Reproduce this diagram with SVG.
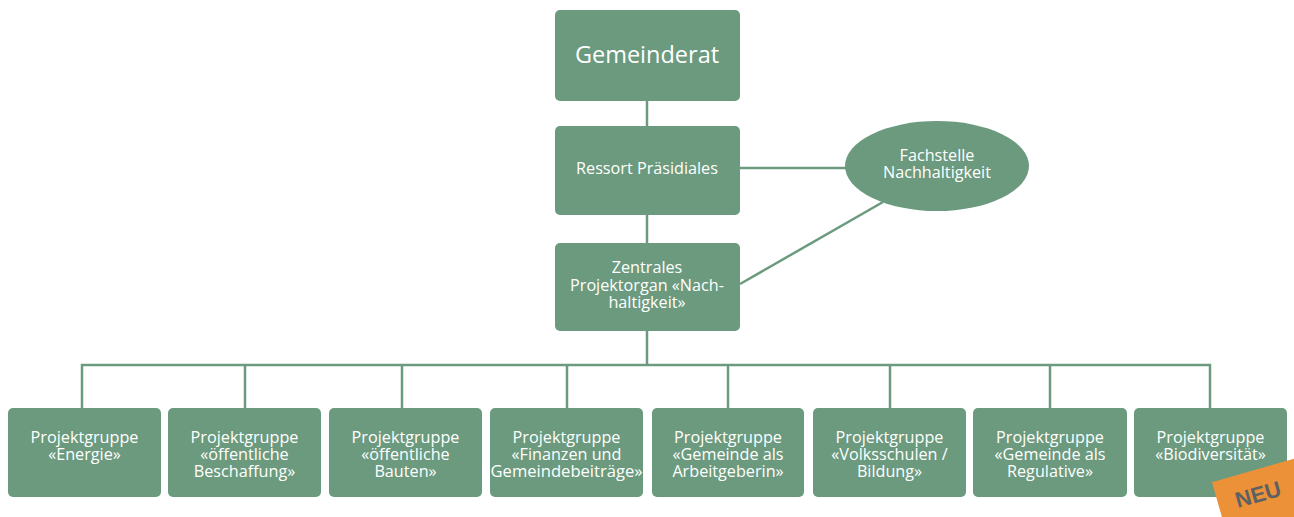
<svg xmlns="http://www.w3.org/2000/svg" width="1294" height="517" viewBox="0 0 1294 517">
<style>
.box{fill:#6b9a7e}
.ln{stroke:#6b9a7e;stroke-width:2.5;fill:none}
text{font-family:"Open Sans","Noto Sans","Liberation Sans",sans-serif;fill:#ffffff;text-anchor:middle}
.s{font-size:16.2px}
</style>
<rect width="1294" height="517" fill="#ffffff"/>
<g id="connectors">
<line class="ln" x1="647" y1="101" x2="647" y2="126"/>
<line class="ln" x1="647" y1="215" x2="647" y2="243"/>
<line class="ln" x1="647" y1="331" x2="647" y2="365"/>
<line class="ln" x1="740" y1="168" x2="846" y2="168"/>
<line class="ln" x1="740" y1="284" x2="883" y2="202"/>
<polyline class="ln" points="82,408 82,365 1210,365 1210,408"/>
<line class="ln" x1="245" y1="365" x2="245" y2="408"/>
<line class="ln" x1="402" y1="365" x2="402" y2="408"/>
<line class="ln" x1="567" y1="365" x2="567" y2="408"/>
<line class="ln" x1="728" y1="365" x2="728" y2="408"/>
<line class="ln" x1="890" y1="365" x2="890" y2="408"/>
<line class="ln" x1="1050" y1="365" x2="1050" y2="408"/>
</g>
<g id="gemeinderat"><rect class="box" x="555" y="10" width="185" height="91" rx="5"/><text x="647" y="63" style="font-size:23.5px">Gemeinderat</text></g>
<g id="ressort"><rect class="box" x="555" y="126" width="185" height="89" rx="5"/><text class="s" x="647" y="174">Ressort Präsidiales</text></g>
<g id="fachstelle"><ellipse class="box" cx="937" cy="166" rx="92" ry="45"/><text class="s"><tspan x="937" y="161">Fachstelle</tspan><tspan x="937" y="178">Nachhaltigkeit</tspan></text></g>
<g id="zentrales"><rect class="box" x="555" y="243" width="185" height="88" rx="5"/><text class="s"><tspan x="647" y="273">Zentrales</tspan><tspan x="647" y="291">Projektorgan «Nach-</tspan><tspan x="647" y="308">haltigkeit»</tspan></text></g>
<g id="pg1"><rect class="box" x="8" y="408" width="153" height="89" rx="5"/><text class="s"><tspan x="84.5" y="443">Projektgruppe</tspan><tspan x="84.5" y="460">«Energie»</tspan></text></g>
<g id="pg2"><rect class="box" x="168" y="408" width="153" height="89" rx="5"/><text class="s"><tspan x="244.5" y="443">Projektgruppe</tspan><tspan x="244.5" y="460">«öffentliche</tspan><tspan x="244.5" y="477">Beschaffung»</tspan></text></g>
<g id="pg3"><rect class="box" x="329" y="408" width="153" height="89" rx="5"/><text class="s"><tspan x="405.5" y="443">Projektgruppe</tspan><tspan x="405.5" y="460">«öffentliche</tspan><tspan x="405.5" y="477">Bauten»</tspan></text></g>
<g id="pg4"><rect class="box" x="490" y="408" width="153" height="89" rx="5"/><text class="s"><tspan x="566.5" y="443">Projektgruppe</tspan><tspan x="566.5" y="460">«Finanzen und</tspan><tspan x="566.5" y="477" textLength="152" lengthAdjust="spacingAndGlyphs">Gemeindebeiträge»</tspan></text></g>
<g id="pg5"><rect class="box" x="652" y="408" width="152" height="89" rx="5"/><text class="s"><tspan x="728" y="443">Projektgruppe</tspan><tspan x="728" y="460">«Gemeinde als</tspan><tspan x="728" y="477">Arbeitgeberin»</tspan></text></g>
<g id="pg6"><rect class="box" x="813" y="408" width="153" height="89" rx="5"/><text class="s"><tspan x="889.5" y="443">Projektgruppe</tspan><tspan x="889.5" y="460">«Volksschulen /</tspan><tspan x="889.5" y="477">Bildung»</tspan></text></g>
<g id="pg7"><rect class="box" x="973" y="408" width="154" height="89" rx="5"/><text class="s"><tspan x="1050" y="443">Projektgruppe</tspan><tspan x="1050" y="460">«Gemeinde als</tspan><tspan x="1050" y="477">Regulative»</tspan></text></g>
<g id="pg8"><rect class="box" x="1134" y="408" width="153" height="89" rx="5"/><text class="s"><tspan x="1210.5" y="443">Projektgruppe</tspan><tspan x="1210.5" y="460">«Biodiversität»</tspan></text></g>
<g id="neu" transform="rotate(-16 1258 494)">
<rect x="1217" y="470" width="115" height="60" fill="#ec9137"/>
<text x="1258" y="502" style="font-size:22px;font-weight:bold;fill:#5e6163;font-family:'Liberation Sans','Open Sans',sans-serif">NEU</text>
</g>
</svg>
